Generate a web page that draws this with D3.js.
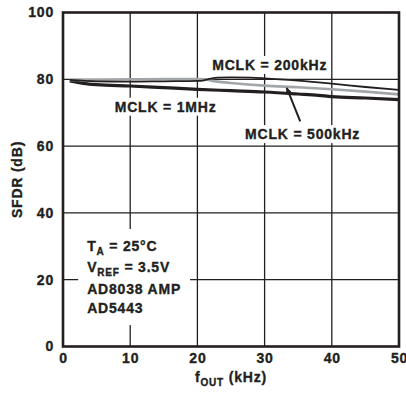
<!DOCTYPE html>
<html>
<head>
<meta charset="utf-8">
<script src="https://cdn.jsdelivr.net/npm/d3@7"></script>
<style>
  body { margin: 0; background: #fff; }
  text { font-family: 'Liberation Sans', Arial, sans-serif; font-weight: bold; fill: #231f20;
         stroke: #231f20; stroke-width: 0.35px; letter-spacing: 0.8px; }
</style>
</head>
<body>
<div id="chart"></div>
<script>
// values (fOUT in kHz, SFDR in dB)
const f1M = [1, 3, 5, 10, 15, 20, 25, 30, 35, 38, 40, 45, 50];
const sfdr1M = [79.5, 78.8, 78.4, 78.0, 77.5, 77.0, 76.6, 76.2, 75.6, 75.2, 74.8, 74.4, 73.9];

const f200k = [1, 5, 10, 15, 20, 21, 22, 23, 25, 28, 30, 35, 40, 45, 50];
const sfdr200k = [79.8, 79.4, 79.3, 79.4, 79.5, 79.7, 80.2, 80.5, 80.6, 80.5, 80.3, 79.6, 78.7, 77.7, 76.8];

const f500k = [1, 5, 10, 15, 20, 21, 22, 23, 25, 30, 35, 40, 45, 50];
const sfdr500k = [79.8, 79.8, 80.0, 80.1, 80.1, 80.0, 79.6, 79.3, 78.9, 78.1, 77.6, 77.0, 76.3, 75.5];

const xTicks = [0, 10, 20, 30, 40, 50];
const yTicks = [0, 20, 40, 60, 80, 100];

const width = 406, height = 396;
const margin = {top: 12.5, right: 7, bottom: 49.5, left: 63};

const svg = d3.select('#chart').append('svg')
    .attr('width', width)
    .attr('height', height);

const x = d3.scaleLinear().domain([0, 50]).range([margin.left, width - margin.right]);
const y = d3.scaleLinear().domain([0, 100]).range([height - margin.bottom, margin.top]);

// grid lines
const grid = svg.append('g');
grid.selectAll('line.v')
    .data(xTicks.slice(1, -1))
    .join('line')
    .attr('x1', d => x(d)).attr('x2', d => x(d))
    .attr('y1', y(0)).attr('y2', y(100))
    .attr('stroke', '#231f20').attr('stroke-width', 1.3);
grid.selectAll('line.h')
    .data(yTicks.slice(1, -1))
    .join('line')
    .attr('x1', x(0)).attr('x2', x(50))
    .attr('y1', d => y(d)).attr('y2', d => y(d))
    .attr('stroke', '#231f20').attr('stroke-width', 1.3);

// axes: labels only, frame drawn separately
const xAxis = svg.append('g')
    .attr('transform', `translate(0,${y(0)})`)
    .call(d3.axisBottom(x).tickValues(xTicks).tickSize(0).tickPadding(6));
xAxis.select('.domain').remove();
xAxis.selectAll('text').attr('font-size', 14).attr('font-family', null).attr('fill', '#231f20')
    .attr('dy', '0.75em');

const yAxis = svg.append('g')
    .attr('transform', `translate(${x(0)},0)`)
    .call(d3.axisLeft(y).tickValues(yTicks).tickSize(0).tickPadding(9));
yAxis.select('.domain').remove();
yAxis.selectAll('text').attr('font-size', 14).attr('font-family', null).attr('fill', '#231f20');

// white boxes behind the labels
const labelLayer = svg.append('g');
const curveLayer = svg.append('g');
const topLayer = svg.append('g');

const curveLabels = [
    {text: 'MCLK = 200kHz', fx: 22.2, fy: 82.8},
    {text: 'MCLK = 1MHz', fx: 7.7, fy: 70.3},
    {text: 'MCLK = 500kHz', fx: 27.1, fy: 62.1}
];

curveLabels.forEach(l => {
    const t = labelLayer.append('text')
        .attr('x', x(l.fx)).attr('y', y(l.fy))
        .attr('font-size', 14)
        .text(l.text);
    const b = t.node().getBBox();
    labelLayer.insert('rect', 'text')
        .attr('x', b.x - 2).attr('y', b.y - 1)
        .attr('width', b.width + 4).attr('height', b.height + 2)
        .attr('fill', '#fff');
});

// condition block
const notes = labelLayer.append('g');
const n1 = notes.append('text').attr('x', x(3.6)).attr('y', y(28.6)).attr('font-size', 14);
n1.append('tspan').text('T');
n1.append('tspan').attr('font-size', 10).attr('dy', 4).text('A');
n1.append('tspan').attr('dy', -4).text(' = 25°C');
const n2 = notes.append('text').attr('x', x(3.6)).attr('y', y(22.3)).attr('font-size', 14);
n2.append('tspan').text('V');
n2.append('tspan').attr('font-size', 10).attr('dy', 4).text('REF');
n2.append('tspan').attr('dy', -4).text(' = 3.5V');
notes.append('text').attr('x', x(3.6)).attr('y', y(15.7)).attr('font-size', 14).text('AD8038 AMP');
notes.append('text').attr('x', x(3.6)).attr('y', y(10.0)).attr('font-size', 14).text('AD5443');
const nb = notes.node().getBBox();
notes.insert('rect', 'text')
    .attr('x', nb.x - 9).attr('y', nb.y - 9)
    .attr('width', nb.width + 18).attr('height', nb.height + 18)
    .attr('fill', '#fff');

// curves
const line = d3.line()
    .x(d => x(d[0]))
    .y(d => y(d[1]))
    .curve(d3.curveMonotoneX);

const series = [
    {f: f1M, v: sfdr1M, color: '#231f20', w: 3.2},
    {f: f500k, v: sfdr500k, color: '#a3a6a9', w: 2.6},
    {f: f200k, v: sfdr200k, color: '#231f20', w: 1.8}
];

curveLayer.selectAll('path')
    .data(series)
    .join('path')
    .attr('d', s => line(d3.zip(s.f, s.v)))
    .attr('fill', 'none')
    .attr('stroke', s => s.color)
    .attr('stroke-width', s => s.w)
    .attr('stroke-linejoin', 'round');

// arrow pointing at the 500kHz curve
const arrowFrom = [35.3, 67.4];
const arrowTo = [33.3, 77.4];
svg.append('defs').append('marker')
    .attr('id', 'head')
    .attr('viewBox', '0 0 10 10')
    .attr('refX', 9).attr('refY', 5)
    .attr('markerWidth', 6).attr('markerHeight', 6)
    .attr('markerUnits', 'userSpaceOnUse')
    .attr('orient', 'auto')
    .append('path')
    .attr('d', 'M0,0 L10,5 L0,10 z')
    .attr('fill', '#231f20');
topLayer.append('line')
    .attr('x1', x(arrowFrom[0])).attr('y1', y(arrowFrom[1]))
    .attr('x2', x(arrowTo[0])).attr('y2', y(arrowTo[1]))
    .attr('stroke', '#231f20').attr('stroke-width', 2)
    .attr('marker-end', 'url(#head)');

// frame
topLayer.append('rect')
    .attr('x', x(0)).attr('y', y(100))
    .attr('width', x(50) - x(0)).attr('height', y(0) - y(100))
    .attr('fill', 'none')
    .attr('stroke', '#231f20').attr('stroke-width', 2.6);

// axis titles
const xt = svg.append('text')
    .attr('x', (x(0) + x(50)) / 2).attr('y', 382)
    .attr('text-anchor', 'middle')
    .attr('font-size', 14);
xt.append('tspan').text('f');
xt.append('tspan').attr('font-size', 10).attr('dy', 4).text('OUT');
xt.append('tspan').attr('dy', -4).text(' (kHz)');

svg.append('text')
    .attr('transform', `translate(22,${(y(0) + y(100)) / 2}) rotate(-90)`)
    .attr('text-anchor', 'middle')
    .attr('font-size', 14)
    .text('SFDR (dB)');
</script>
</body>
</html>
